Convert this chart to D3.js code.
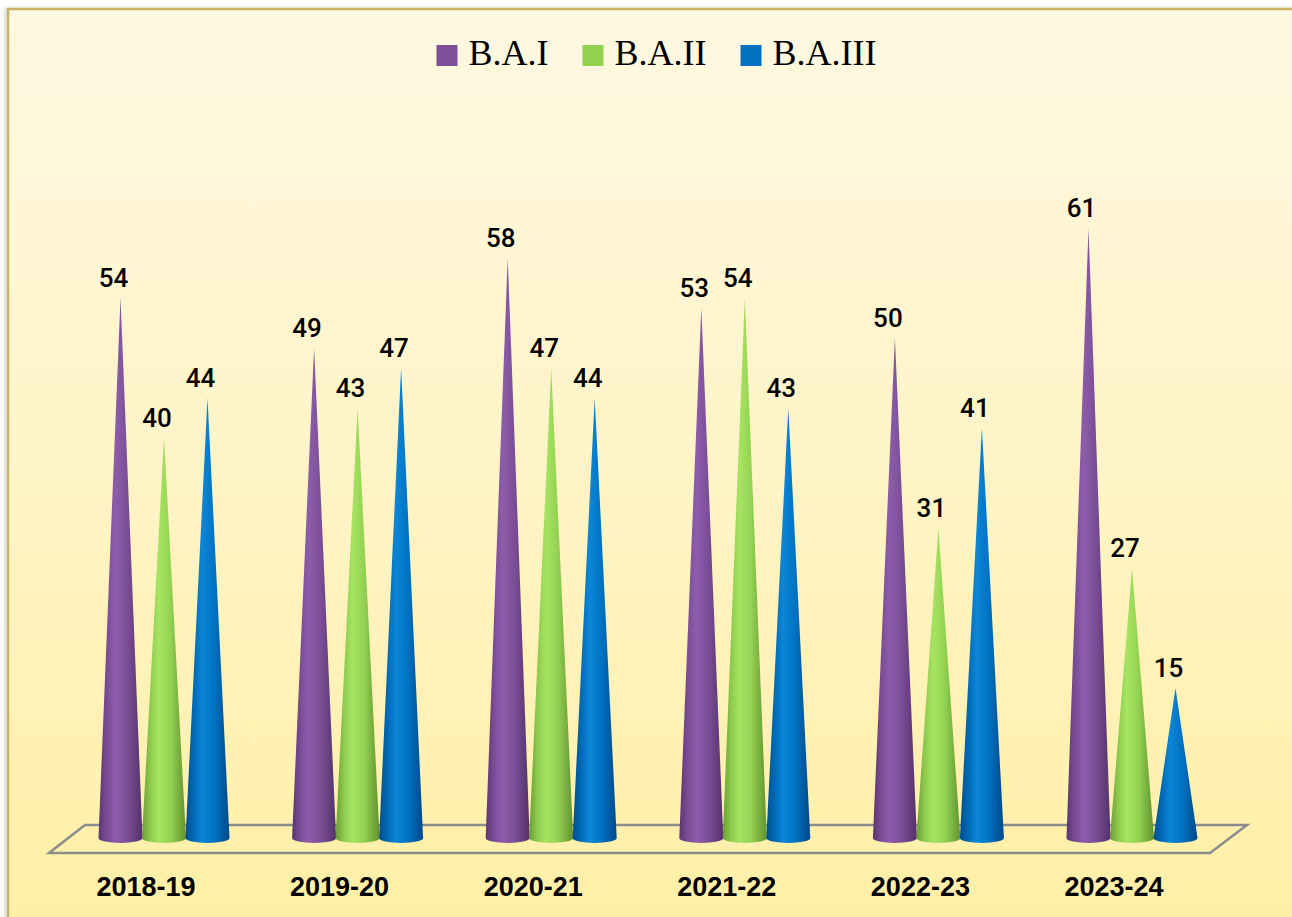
<!DOCTYPE html>
<html><head><meta charset="utf-8">
<script src="https://cdn.jsdelivr.net/npm/d3@7"></script>
<style>
html,body{margin:0;padding:0;background:#fff;overflow:hidden;}
</style></head>
<body>
<svg id="chart" width="1292" height="917"></svg>
<script>
const categories = ["2018-19","2019-20","2020-21","2021-22","2022-23","2023-24"];
const seriesNames = ["B.A.I","B.A.II","B.A.III"];
const baI   = [54,49,58,53,50,61];
const baII  = [40,43,47,54,31,27];
const baIII = [44,47,44,43,41,15];
const seriesValues = [baI, baII, baIII];
const seriesColors = ["#7E4E98","#92D050","#0070C0"];
const gradStops = [
  ["#5a3570","#7a4b95","#8d5dab","#7c4e97","#55326a"],
  ["#6a9d34","#8cc94c","#a8e462","#93d152","#62922f"],
  ["#004d8e","#0068b4","#0c86d8","#0073c2","#00488a"]
];

const svg = d3.select("#chart");
const W = 1292, H = 917;
const defs = svg.append("defs");

// background gradient
const bg = defs.append("linearGradient").attr("id","bg").attr("x1",0).attr("y1",0).attr("x2",0).attr("y2",1);
bg.append("stop").attr("offset",0).attr("stop-color","#FEF8E2");
bg.append("stop").attr("offset",0.5).attr("stop-color","#FFF4C6");
bg.append("stop").attr("offset",1).attr("stop-color","#FFEFA4");
const sh = defs.append("filter").attr("id","shadow").attr("x","-5%").attr("y","-5%").attr("width","110%").attr("height","110%");
sh.append("feDropShadow").attr("dx",-2).attr("dy",0).attr("stdDeviation",2).attr("flood-color","#000").attr("flood-opacity",0.18);

svg.append("rect").attr("x",8).attr("y",9).attr("width",W+20).attr("height",H+20)
  .attr("fill","url(#bg)").attr("stroke","#C9B264").attr("stroke-width",2.5).attr("filter","url(#shadow)");

// cone gradients
seriesNames.forEach((s,i)=>{
  const g = defs.append("linearGradient").attr("id","cone"+i).attr("x1",0).attr("y1",0).attr("x2",1).attr("y2",0);
  const offs=[0,0.18,0.38,0.65,1];
  gradStops[i].forEach((c,k)=>g.append("stop").attr("offset",offs[k]).attr("stop-color",c));
});

// scales
const x0 = d3.scaleBand().domain(categories).range([67.2, 1228.8]).padding(0);
const x1 = d3.scaleBand().domain(seriesNames).range([-65.25, 65.25]).padding(0);
const y = d3.scaleLinear().domain([0,70]).range([838,138]);

// floor
const fl = [[49,853],[85,825],[1247,825],[1210,853]];
svg.append("path").attr("d", d3.line()(fl)+"Z").attr("fill","none")
  .attr("stroke","#8C8C8C").attr("stroke-width",2.5).attr("stroke-linejoin","miter");

// cones
const r = 22, ry = 5;
const data = [];
categories.forEach((c,ci)=>{
  seriesNames.forEach((s,si)=>{
    data.push({c, s, si, v: seriesValues[si][ci]});
  });
});
const cones = svg.append("g");
data.forEach(d=>{
  const cx = x0(d.c) + x0.bandwidth()/2 + x1(d.s) + x1.bandwidth()/2;
  const yb = y(0), yt = y(d.v);
  const p = `M${cx},${yt} L${cx-r},${yb} A${r},${ry} 0 0 0 ${cx+r},${yb} Z`;
  cones.append("path").attr("d",p).attr("fill",`url(#cone${d.si})`);
  svg.append("text").attr("x",cx-7).attr("y",yt-11).attr("text-anchor","middle")
    .attr("font-family","Roboto, 'Liberation Sans', sans-serif").attr("font-weight",500)
    .attr("font-size",26).attr("fill","#000").text(d.v);
});

// category labels
svg.append("g").selectAll("text").data(categories).join("text")
  .attr("x", d=>x0(d)+x0.bandwidth()/2-18).attr("y",896).attr("text-anchor","middle")
  .attr("font-family","'Liberation Sans', Arial, sans-serif").attr("font-weight","bold")
  .attr("font-size",27).attr("fill","#000").text(d=>d);

// legend
const lg = svg.append("g");
let lx = 0;
seriesNames.forEach((s,i)=>{
  const g = lg.append("g").attr("transform",`translate(${lx},0)`);
  g.append("rect").attr("x",0).attr("y",45).attr("width",21).attr("height",21).attr("fill",seriesColors[i]);
  const t = g.append("text").attr("x",32).attr("y",65).attr("font-family","'Liberation Serif','Times New Roman',serif")
    .attr("font-size",36).attr("fill","#000").text(s);
  const w = t.node().getComputedTextLength();
  lx += 32 + w + 34;
});
const totalW = lx - 34;
lg.attr("transform",`translate(${656.5 - totalW/2},0)`);
</script>
</body></html>
